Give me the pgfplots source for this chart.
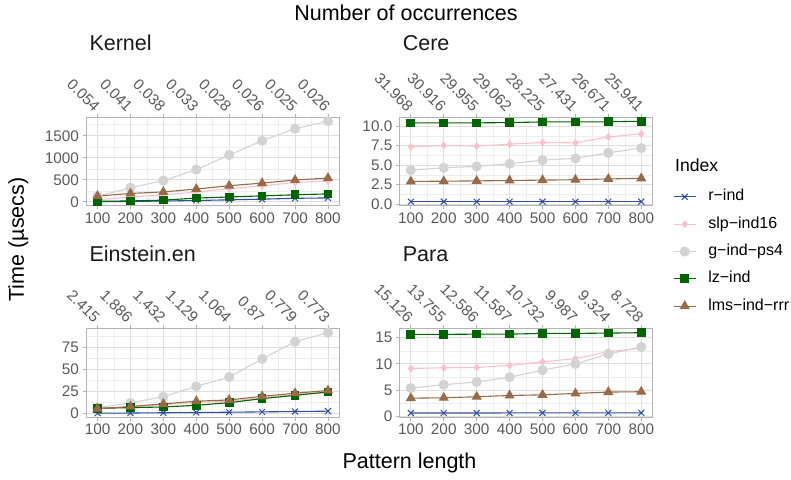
\documentclass[border=0pt]{standalone}
\usepackage{fontspec}
\setmainfont{Liberation Sans}
\usepackage{pgfplots}
\pgfplotsset{compat=1.18}

\definecolor{rind}{HTML}{2F4F9F}
\definecolor{slpind}{HTML}{FFC0CB}
\definecolor{gind}{HTML}{D3D3D3}
\definecolor{lzind}{HTML}{006400}
\definecolor{lmsind}{HTML}{996A48}
\definecolor{gridmaj}{HTML}{DEDEDE}
\definecolor{gridmin}{HTML}{EDEDED}
\definecolor{frame}{HTML}{B3B3B3}
\definecolor{ticklab}{HTML}{595959}

\newcommand\ticksize{\fontsize{15.3}{18}\selectfont}
\newcommand\titlesize{\fontsize{21.5}{25}\selectfont}
\newcommand\gap{\hspace*{12pt}}

\pgfplotsset{
  panel/.style={
    scale only axis, width=253.5pt, height=88.5pt,
    xmin=65, xmax=835,
    xtick={100,200,...,800},
    minor xtick={150,250,...,750},
    grid=both,
    major grid style={draw=gridmaj, line width=0.8pt},
    minor grid style={draw=gridmin, line width=0.5pt},
    axis line style={draw=frame, line width=0.9pt},
    major tick style={draw=frame, line width=0.8pt},
    major tick length=3.5pt, minor tick length=0pt,
    tick align=outside, xtick pos=both, ytick pos=left,
    tick label style={font=\ticksize, text=ticklab},
    /pgf/number format/assume math mode=true,
    clip=false,
  },
  toplab/.style={
    scale only axis, width=253.5pt, height=88.5pt,
    xmin=65, xmax=835, ymin=0, ymax=1,
    hide y axis, axis x line*=top,
    x axis line style={draw=none},
    xtick={100,200,...,800},
    major tick length=0pt,
    xticklabel shift=6pt,
    xticklabel style={font=\ticksize, text=ticklab, xshift=2pt, rotate=-45, anchor=east},
  },
  s1/.style={rind, line width=1.1pt, mark=x, mark size=4.2pt, mark options={line width=1pt}},
  s2/.style={slpind, line width=1.1pt, mark=diamond*, mark size=3.2pt},
  s3/.style={gind, line width=1.1pt, mark=*, mark size=4.5pt},
  s4/.style={lzind, line width=1.1pt, mark=square*, mark size=3.8pt},
  s5/.style={lmsind, line width=1.1pt, mark=triangle*, mark size=4.8pt},
}

\begin{document}
\begin{tikzpicture}
\useasboundingbox (0,0) rectangle (791pt,479pt);

% Kernel
\begin{axis}[panel, at={(86pt,273.3pt)}, anchor=south west,
  ymin=-88, ymax=1921,
  ytick={0,500,1000,1500}, yticklabels={0,500,1000,1500},
  minor ytick={250,750,1250,1750}]
\addplot[s1] coordinates {(100,3) (200,8) (300,18) (400,30) (500,45) (600,60) (700,80) (800,88)};
\addplot[s2] coordinates {(100,50) (200,105) (300,160) (400,220) (500,300) (600,360) (700,440) (800,470)};
\addplot[s3] coordinates {(100,128) (200,317) (300,483) (400,731) (500,1063) (600,1387) (700,1660) (800,1830)};
\addplot[s4] coordinates {(100,12) (200,20) (300,38) (400,85) (500,110) (600,135) (700,160) (800,180)};
\addplot[s5] coordinates {(100,130) (200,190) (300,225) (400,290) (500,365) (600,425) (700,495) (800,540)};
\end{axis}
\begin{axis}[toplab, at={(86pt,273.3pt)}, anchor=south west,
  xticklabels={0.054,0.041,0.038,0.033,0.028,0.026,0.025,0.026}]
\addplot[draw=none] coordinates {(100,0)};
\end{axis}

% Cere
\begin{axis}[panel, at={(399.3pt,273.3pt)}, anchor=south west,
  ymin=-0.22, ymax=11.16,
  ytick={0,2.5,5,7.5,10}, yticklabels={0.0,2.5,5.0,7.5,10.0},
  minor ytick={1.25,3.75,6.25,8.75},
  legend style={at={(axis description cs:1.0797,0.1808)}, anchor=north west,
    draw=none, fill=none, inner xsep=0pt, inner ysep=0pt,
    font=\fontsize{16}{19}\selectfont,
    nodes={inner sep=0pt, text height=11pt, text depth=3pt},
    row sep=13.3pt},
  legend cell align=left,
  legend image code/.code={\draw[mark repeat=2,mark phase=2] plot coordinates {(0pt,0pt) (11pt,0pt) (22pt,0pt)};}]
\addplot[s1] coordinates {(100,0.3) (200,0.3) (300,0.3) (400,0.3) (500,0.3) (600,0.3) (700,0.3) (800,0.3)};
\addplot[s2] coordinates {(100,7.35) (200,7.52) (300,7.44) (400,7.69) (500,7.91) (600,7.86) (700,8.63) (800,9.02)};
\addplot[s3] coordinates {(100,4.36) (200,4.66) (300,4.83) (400,5.17) (500,5.64) (600,5.86) (700,6.58) (800,7.18)};
\addplot[s4] coordinates {(100,10.43) (200,10.43) (300,10.43) (400,10.47) (500,10.55) (600,10.55) (700,10.57) (800,10.64)};
\addplot[s5] coordinates {(100,2.9) (200,2.93) (300,2.97) (400,3.02) (500,3.07) (600,3.12) (700,3.22) (800,3.3)};
\legend{\gap r−ind,\gap slp−ind16,\gap g−ind−ps4,\gap lz−ind,\gap lms−ind−rrr}
\end{axis}
\begin{axis}[toplab, at={(399.3pt,273.3pt)}, anchor=south west,
  xticklabels={31.968,30.916,29.955,29.062,28.225,27.431,26.671,25.941}]
\addplot[draw=none] coordinates {(100,0)};
\end{axis}

% Einstein.en
\begin{axis}[panel, at={(86pt,61.8pt)}, anchor=south west,
  ymin=-4, ymax=95.6,
  ytick={0,25,50,75}, yticklabels={0,25,50,75},
  minor ytick={12.5,37.5,62.5,87.5}]
\addplot[s1] coordinates {(100,0.5) (200,0.7) (300,1.0) (400,1.3) (500,1.6) (600,2.0) (700,2.4) (800,2.8)};
\addplot[s2] coordinates {(100,6) (200,7.5) (300,10) (400,12.5) (500,14) (600,18) (700,21.5) (800,24)};
\addplot[s3] coordinates {(100,6.75) (200,12) (300,19.1) (400,30.75) (500,41.25) (600,61.5) (700,81) (800,91)};
\addplot[s4] coordinates {(100,6) (200,6.75) (300,7.5) (400,9.4) (500,12.4) (600,16.9) (700,20.6) (800,24.4)};
\addplot[s5] coordinates {(100,5.5) (200,8) (300,11) (400,14) (500,15.4) (600,19.5) (700,23) (800,26)};
\end{axis}
\begin{axis}[toplab, at={(86pt,61.8pt)}, anchor=south west,
  xticklabels={2.415,1.886,1.432,1.129,1.064,0.87,0.779,0.773}]
\addplot[draw=none] coordinates {(100,0)};
\end{axis}

% Para
\begin{axis}[panel, at={(399.3pt,61.8pt)}, anchor=south west,
  ymin=-0.22, ymax=16.74,
  ytick={0,5,10,15}, yticklabels={0,5,10,15},
  minor ytick={2.5,7.5,12.5}]
\addplot[s1] coordinates {(100,0.58) (200,0.58) (300,0.58) (400,0.6) (500,0.6) (600,0.6) (700,0.62) (800,0.62)};
\addplot[s2] coordinates {(100,9.12) (200,9.25) (300,9.31) (400,9.7) (500,10.4) (600,11.0) (700,12.35) (800,13.0)};
\addplot[s3] coordinates {(100,5.37) (200,6.0) (300,6.53) (400,7.44) (500,8.8) (600,10.0) (700,11.9) (800,13.25)};
\addplot[s4] coordinates {(100,15.65) (200,15.65) (300,15.7) (400,15.7) (500,15.84) (600,15.84) (700,15.9) (800,15.97)};
\addplot[s5] coordinates {(100,3.43) (200,3.5) (300,3.7) (400,3.94) (500,4.07) (600,4.33) (700,4.6) (800,4.66)};
\end{axis}
\begin{axis}[toplab, at={(399.3pt,61.8pt)}, anchor=south west,
  xticklabels={15.126,13.755,12.586,11.587,10.732,9.987,9.324,8.728}]
\addplot[draw=none] coordinates {(100,0)};
\end{axis}

% titles
\node[anchor=base west, font=\titlesize, text=black!90] at (86pt,428pt) {Kernel};
\node[anchor=base west, font=\titlesize, text=black!90] at (399.3pt,428pt) {Cere};
\node[anchor=base west, font=\titlesize, text=black!90] at (86pt,217.3pt) {Einstein.en};
\node[anchor=base west, font=\titlesize, text=black!90] at (399.3pt,217.3pt) {Para};
\node[anchor=base, font=\titlesize] at (406pt,458pt) {Number of occurrences};
\node[anchor=base, font=\titlesize] at (409.5pt,11pt) {Pattern length};
\node[anchor=base, rotate=90, font=\titlesize] at (24pt,239.5pt) {Time (µsecs)};
\node[anchor=base west, font=\fontsize{17.6}{20}\selectfont] at (671.7pt,307.3pt) {Index};
\end{tikzpicture}
\end{document}
